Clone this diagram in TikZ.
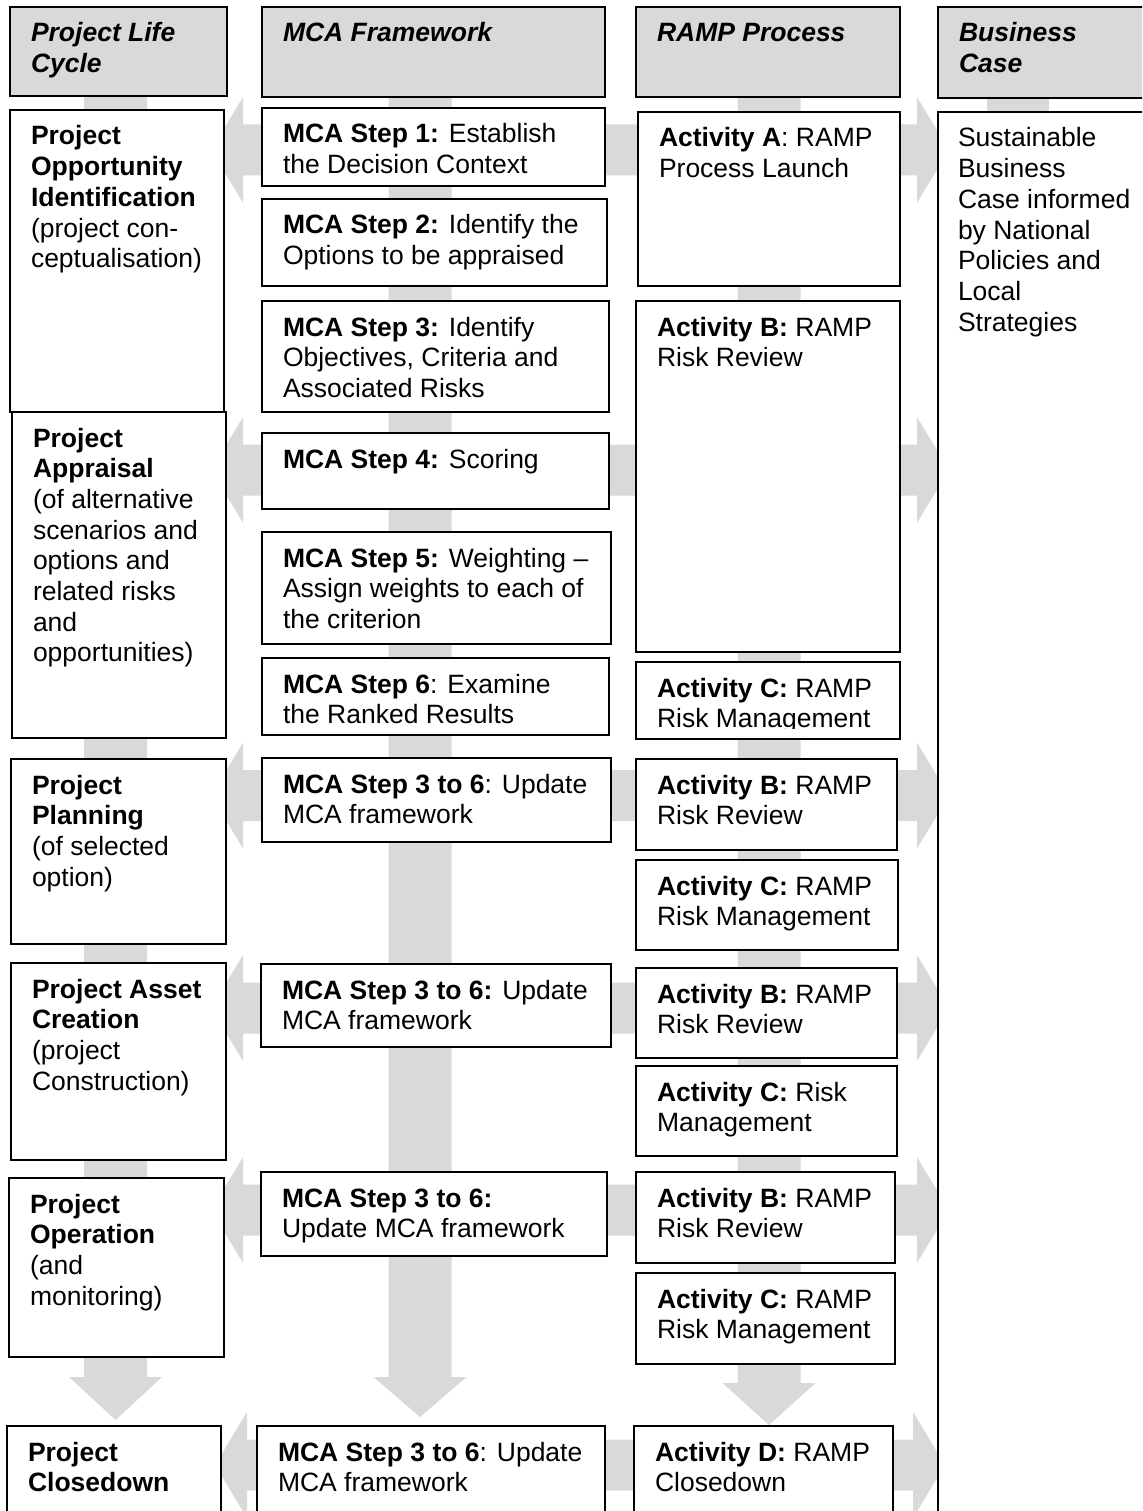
\documentclass[tikz,border=0pt]{standalone}
\usepackage{fontspec}
\setmainfont{Liberation Sans}
\definecolor{flowgray}{RGB}{217,217,217}
\newcommand\bodysize{\fontsize{26.5}{30.7}\selectfont}

% A box with top-left aligned text: [style]{name}{x1}{y1}{x2}{y2}{text}
\newcommand\panel[7][box]{%
  \node[#1, minimum width={(#5-#3)*1pt}, minimum height={(#6-#4)*1pt}] (#2) at (#3,#4) {};
  \node[txt] (#2-text) at ([xshift=21pt,yshift=-15pt]#2.north west) {\rule{0pt}{20pt}#7};}

% Wide grey double-headed flow arrow: left tip x, right tip x, centre y
\newcommand\hflow[3]{%
  \fill[flow] (#1,#3) -- (#1+32,#3-53) -- (#1+32,#3-25.5) -- (#2-32,#3-25.5)
    -- (#2-32,#3-53) -- (#2,#3) -- (#2-32,#3+53) -- (#2-32,#3+25.5)
    -- (#1+32,#3+25.5) -- (#1+32,#3+53) -- cycle;}

% Wide grey downward flow arrow: centre x, top y, head base y, tip y
\newcommand\vflow[4]{%
  \fill[flow] (#1-31.5,#2) -- (#1+31.5,#2) -- (#1+31.5,#3) -- (#1+46.5,#3)
    -- (#1,#4) -- (#1-46.5,#3) -- (#1-31.5,#3) -- cycle;}

\begin{document}
\begin{tikzpicture}[x=1pt,y=-1pt,
  flow/.style={fill=flowgray},
  box/.style={draw=black, line width=2pt, fill=white, inner sep=0pt, outer sep=0pt, anchor=north west},
  headbox/.style={box, fill=flowgray},
  txt/.style={anchor=north west, inner sep=0pt, outer sep=0pt, align=left, font=\bodysize}]
\useasboundingbox (0,0) rectangle (1142,1511);
\clip (0,0) rectangle (1142,1511);

% ---- background flows ----
\vflow{115.5}{90}{1377}{1420}
\vflow{420}{90}{1377}{1417}
\vflow{769}{90}{1383}{1425}
\fill[flow] (987,90) rectangle (1049,200);

\hflow{211}{949}{150}
\hflow{211}{949}{470}
\hflow{211}{949}{795.5}
\hflow{211}{949}{1008}
\hflow{211}{949}{1210}
\hflow{215}{945}{1465}

% ---- column headers ----
\panel[headbox]{hlife}{10}{7}{227}{96}{\bfseries\itshape Project Life\\\bfseries\itshape Cycle}
\panel[headbox]{hmca}{262}{7}{605}{97}{\bfseries\itshape MCA Framework}
\panel[headbox]{hramp}{636}{7}{900}{97}{\bfseries\itshape RAMP Process}
\panel[headbox]{hbiz}{938}{7}{1170}{98}{\bfseries\itshape Business\\\bfseries\itshape Case}

% ---- project life cycle ----
\panel{poi}{10}{110}{224}{412}{\textbf{Project}\\\textbf{Opportunity}\\\textbf{Identification}\\(project con-\\ceptualisation)}
\panel{pa}{12}{412}{226}{738}{\textbf{Project}\\\textbf{Appraisal}\\(of alternative\\scenarios and\\options and\\related risks\\and\\opportunities)}
\panel{pp}{11}{759}{226}{944}{\textbf{Project}\\\textbf{Planning}\\(of selected\\option)}
\panel{pac}{11}{963}{226}{1160}{\textbf{Project Asset}\\\textbf{Creation}\\(project\\Construction)}
\panel{po}{9}{1178}{224}{1357}{\textbf{Project}\\\textbf{Operation}\\(and\\monitoring)}
\panel{pc}{7}{1426}{221}{1540}{\textbf{Project}\\\textbf{Closedown}}

% ---- MCA framework ----
\panel{s1}{262}{108}{605}{186}{\textbf{MCA Step 1:} Establish\\the Decision Context}
\panel{s2}{262}{199}{607}{286}{\textbf{MCA Step 2:} Identify the\\Options to be appraised}
\panel{s3}{262}{301}{609}{412}{\textbf{MCA Step 3:} Identify\\Objectives, Criteria and\\Associated Risks}
\panel{s4}{262}{433}{609}{509}{\textbf{MCA Step 4:} Scoring}
\panel{s5}{262}{532}{611}{644}{\textbf{MCA Step 5:} Weighting –\\Assign weights to each of\\the criterion}
\panel{s6}{262}{658}{609}{735}{\textbf{MCA Step 6}: Examine\\the Ranked Results}
\panel{u1}{262}{758}{611}{842}{\textbf{MCA Step 3 to 6}: Update\\MCA framework}
\panel{u2}{261}{964}{611}{1047}{\textbf{MCA Step 3 to 6:} Update\\MCA framework}
\panel{u3}{261}{1172}{607}{1256}{\textbf{MCA Step 3 to 6:}\\Update MCA framework}
\panel{u4}{257}{1426}{605}{1540}{\textbf{MCA Step 3 to 6}: Update\\MCA framework}

% ---- RAMP process ----
\panel{ra}{638}{112}{900}{286}{\textbf{Activity A}: RAMP\\Process Launch}
\panel{rb1}{636}{301}{900}{652}{\textbf{Activity B:} RAMP\\Risk Review}
\node[box, minimum width=264pt, minimum height=77pt] (rc1) at (636,662) {};
\begin{scope}
  \clip (636,662) rectangle (900,728);
  \node[txt] (rc1-text) at ([xshift=21pt,yshift=-15pt]rc1.north west)
    {\rule{0pt}{20pt}\textbf{Activity C:} RAMP\\Risk Management};
\end{scope}
\panel{rb2}{636}{759}{897}{850}{\textbf{Activity B:} RAMP\\Risk Review}
\panel{rc2}{636}{860}{898}{950}{\textbf{Activity C:} RAMP\\Risk Management}
\panel{rb3}{636}{968}{897}{1058}{\textbf{Activity B:} RAMP\\Risk Review}
\panel{rc3}{636}{1066}{897}{1156}{\textbf{Activity C:} Risk\\Management}
\panel{rb4}{636}{1172}{895}{1263}{\textbf{Activity B:} RAMP\\Risk Review}
\panel{rc4}{636}{1273}{895}{1364}{\textbf{Activity C:} RAMP\\Risk Management}
\panel{rd}{634}{1426}{893}{1540}{\textbf{Activity D:} RAMP\\Closedown}

% ---- business case ----
\node[box, minimum width=232pt, minimum height=1428pt] (biz) at (938,112) {};
\node[txt] (biz-text) at ([xshift=20pt,yshift=-15pt]biz.north west)
  {\rule{0pt}{20pt}Sustainable\\Business\\Case informed\\by National\\Policies and\\Local\\Strategies};
\end{tikzpicture}
\end{document}
